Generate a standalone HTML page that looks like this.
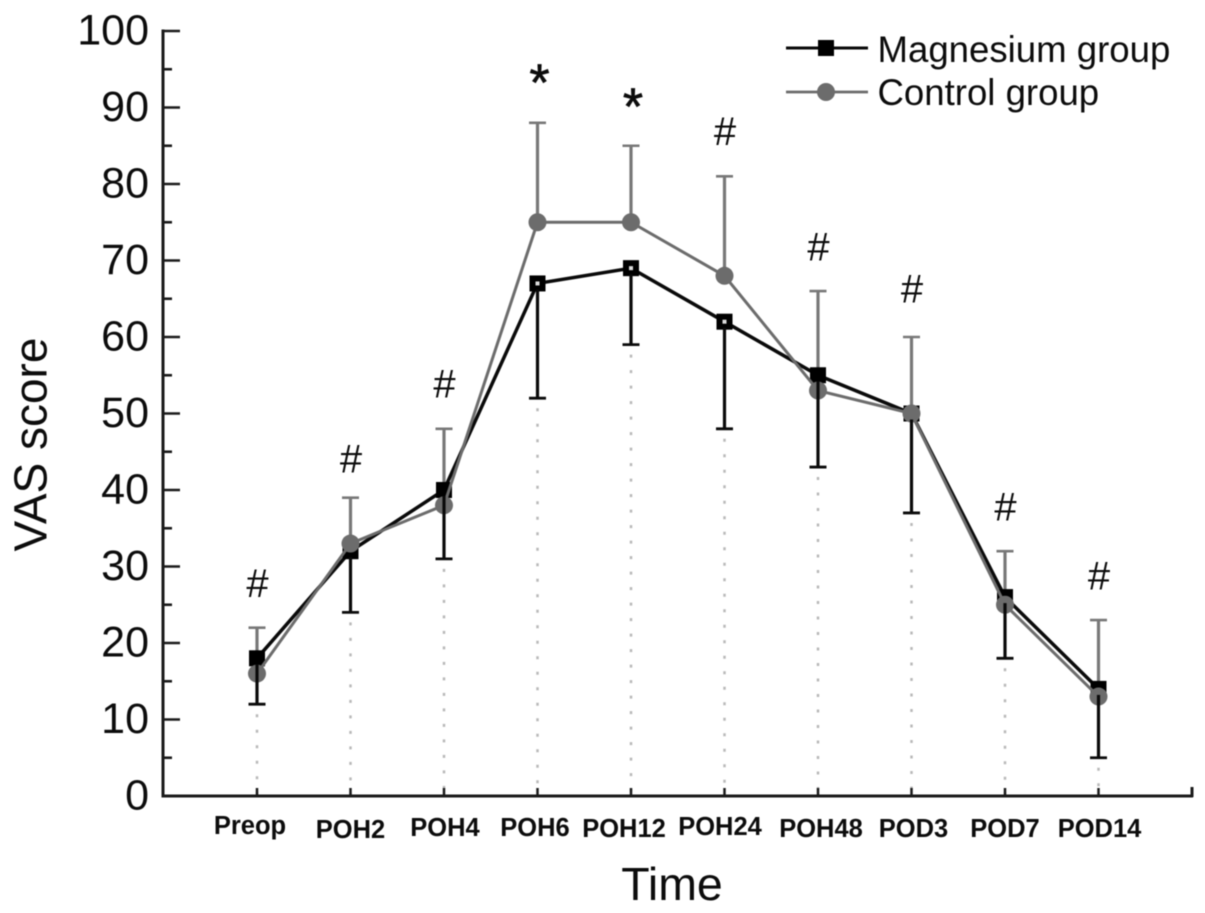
<!DOCTYPE html>
<html lang="en">
<head>
<meta charset="utf-8">
<title>VAS score over time</title>
<style>
  html, body { margin: 0; padding: 0; background: #fff; }
  svg { display: block; filter: blur(0.5px); }
  text { font-family: "Liberation Sans", Arial, sans-serif; fill: #0c0c0c; }
</style>
</head>
<body>
<svg id="chart" xmlns="http://www.w3.org/2000/svg" width="1205" height="913" viewBox="0 0 1205 913"></svg>
<script>
// ---- chart data ----
const categories = ['Preop','POH2','POH4','POH6','POH12','POH24','POH48','POD3','POD7','POD14'];
const magnesiumValues = [18,32,40,67,69,62,55,50,26,14];
const magnesiumLower  = [12,24,31,52,59,48,43,37,18,5];
const controlValues   = [16,33,38,75,75,68,53,50,25,13];
const controlUpper    = [22,39,48,88,85,81,66,60,32,23];
const significance    = ['#','#','#','*','*','#','#','#','#','#'];
const significanceLevel = [26,42.3,52.1,90.9,87.8,85.1,70,64.5,36,27];
const yTickLabels = [0,10,20,30,40,50,60,70,80,90,100];
const hollowCategories = ['POH6','POH12','POH24'];

// ---- axis functions ----
const svg = document.getElementById('chart');
const NS = 'http://www.w3.org/2000/svg';
const BLACK = '#0a0a0a', GRAY = '#6c6c6c';
function xPos(i) { return 257 + i * 93.5; }
function yPos(v) { return 796 - v * 7.65; }

function add(parent, tag, attrs, name, text) {
  const el = document.createElementNS(NS, tag);
  for (const k in attrs) el.setAttribute(k, attrs[k]);
  
  
  if (text !== undefined) el.textContent = text;
  parent.appendChild(el);
  return el;
}
function group(name) {
  const g = document.createElementNS(NS, 'g');
  
  
  svg.appendChild(g);
  return g;
}
function vline(g, x, y1, y2, color, w, name) {
  add(g, 'line', {x1:x, x2:x, y1:y1, y2:y2, stroke:color, 'stroke-width':w}, name);
}
function hline(g, x1, x2, y, color, w, name) {
  add(g, 'line', {x1:x1, x2:x2, y1:y, y2:y, stroke:color, 'stroke-width':w}, name);
}
function square(g, x, y, name) {
  add(g, 'rect', {x:x-8, y:y-8, width:16, height:16, fill:'#000'}, name);
}
function circle(g, x, y, name) {
  add(g, 'circle', {cx:x, cy:y, r:9, fill:GRAY}, name);
}
function polyPoints(values) {
  return values.map((v, i) => xPos(i) + ',' + yPos(v)).join(' ');
}

// ---- guide lines ----
const guides = group('drop-lines');
categories.forEach((c, i) => {
  add(guides, 'line', {x1:xPos(i), x2:xPos(i), y1:yPos(magnesiumLower[i]) + 10, y2:yPos(0),
    stroke:'#b9b9b9', 'stroke-width':2.5, 'stroke-dasharray':'3 12.5'}, 'drop-line-' + c.toLowerCase());
});

// ---- axes ----
const axes = group('axes');
vline(axes, 163, 29.5, 797.5, '#1a1a1a', 3, 'y-axis-line');
hline(axes, 161.5, 1193, 796, '#1a1a1a', 3, 'x-axis-line');
vline(axes, 1192, 787, 797, '#1a1a1a', 3, 'x-axis-end-tick');
for (let v = 0; v <= 100; v += 5) {
  const major = v % 10 === 0;
  hline(axes, 163, major ? 180 : 172, yPos(v), '#1a1a1a', 2.6, 'y-tick-' + v);
}
yTickLabels.forEach(v => {
  add(axes, 'text', {x:149, y:yPos(v) + 13.5, 'text-anchor':'end', 'font-size':43}, 'y-tick-label-' + v, String(v));
});
const xLabelShift = [-7,0,1,-2.5,-7,-4.5,3,2,0,1];
const xLabelBase  = [834,838,836,836,837,835,837,837,837,837];
categories.forEach((c, i) => {
  vline(axes, xPos(i), 788, 796, '#1a1a1a', 2.5, 'x-tick-' + c.toLowerCase());
  add(axes, 'text', {x:xPos(i) + xLabelShift[i], y:xLabelBase[i], 'text-anchor':'middle',
    'font-size':25.5, 'font-weight':'bold'}, 'x-tick-label-' + c.toLowerCase(), c);
});
add(axes, 'text', {x:672, y:900, 'text-anchor':'middle', 'font-size':46.5}, 'x-axis-title', 'Time');
add(axes, 'text', {x:0, y:0, transform:'translate(46.5 444.5) rotate(-90)', 'text-anchor':'middle', 'font-size':46}, 'y-axis-title', 'VAS score');

// ---- upper error bars (control) ----
const upperBars = group('control-error-bars');
categories.forEach((c, i) => {
  const x = xPos(i), top = yPos(controlUpper[i]);
  vline(upperBars, x, top, yPos(controlValues[i]), '#787878', 3.2, 'control-error-stem-' + c.toLowerCase());
  hline(upperBars, x - 8.5, x + 8.5, top, '#787878', 2.6, 'control-error-cap-' + c.toLowerCase());
});

// ---- magnesium series ----
const magnesium = group('magnesium-series');
add(magnesium, 'polyline', {points:polyPoints(magnesiumValues), fill:'none', stroke:BLACK, 'stroke-width':3.5}, 'magnesium-line');
categories.forEach((c, i) => {
  square(magnesium, xPos(i), yPos(magnesiumValues[i]), 'magnesium-point-' + c.toLowerCase());
});

// ---- control series ----
const control = group('control-series');
add(control, 'polyline', {points:polyPoints(controlValues), fill:'none', stroke:GRAY, 'stroke-width':3}, 'control-line');
categories.forEach((c, i) => {
  circle(control, xPos(i), yPos(controlValues[i]), 'control-point-' + c.toLowerCase());
});

// ---- lower error bars (magnesium) ----
const lowerBars = group('magnesium-error-bars');
categories.forEach((c, i) => {
  const x = xPos(i), bot = yPos(magnesiumLower[i]);
  vline(lowerBars, x, yPos(magnesiumValues[i]) + 6, bot, BLACK, 3.2, 'magnesium-error-stem-' + c.toLowerCase());
  hline(lowerBars, x - 8.5, x + 8.5, bot, BLACK, 2.8, 'magnesium-error-cap-' + c.toLowerCase());
  if (hollowCategories.includes(c)) {
    add(lowerBars, 'rect', {x:x-2, y:yPos(magnesiumValues[i])-2, width:4, height:4, fill:'#dcdcdc'}, 'magnesium-point-center-' + c.toLowerCase());
  }
});

// ---- significance marks ----
const marks = group('significance-marks');
significance.forEach((s, i) => {
  const star = s === '*';
  const t = add(marks, 'text', {x:xPos(i) + (star ? 2 : 0.5), y:yPos(significanceLevel[i]), 'text-anchor':'middle',
    'font-size':star ? 52 : 40}, 'significance-' + categories[i].toLowerCase(), s);
  if (star) t.setAttribute('stroke', '#0c0c0c');
  if (star) t.setAttribute('stroke-width', '0.7');
});

// ---- legend ----
const legend = group('legend');
hline(legend, 786, 868, 48, BLACK, 3, 'legend-line-magnesium');
square(legend, 826, 48, 'legend-marker-magnesium');
add(legend, 'text', {x:877.5, y:62, 'font-size':36.6}, 'legend-label-magnesium', 'Magnesium group');
hline(legend, 786, 868, 92, GRAY, 2.8, 'legend-line-control');
circle(legend, 826, 92, 'legend-marker-control');
add(legend, 'text', {x:877.5, y:105, 'font-size':36.6}, 'legend-label-control', 'Control group');
</script>
</body>
</html>
